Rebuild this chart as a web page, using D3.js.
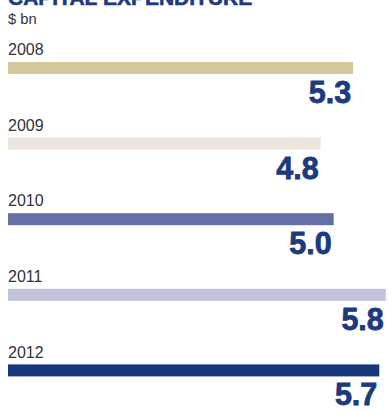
<!DOCTYPE html>
<html>
<head>
<meta charset="utf-8">
<script src="https://cdn.jsdelivr.net/npm/d3@7"></script>
<style>
  html, body { margin: 0; padding: 0; background: #ffffff; }
  svg { display: block; }
</style>
</head>
<body>
<script>
// Capital expenditure by year, $ bn
const years = ["2008", "2009", "2010", "2011", "2012"];
const capex = [5.3, 4.8, 5.0, 5.8, 5.7];
const barColors = ["#d6c99d", "#ede6dc", "#646fa3", "#c0c3dc", "#18367c"];
const valueLabels = ["5.3", "4.8", "5.0", "5.8", "5.7"];

const width = 389, height = 410;
const navy = "#1b3a80";

const svg = d3.select("body").append("svg")
  .attr("width", width)
  .attr("height", height);

// Horizontal value scale: bars start at the left margin
const x = d3.scaleLinear().domain([0, 5.8]).range([8, 385.8]);

// One row per year; each row holds year label, bar and value label
const y = d3.scaleBand().domain(years).range([62, 62 + 75.6 * years.length]).paddingInner(0);
const barH = 12;

// Title (sits partly above the top edge)
svg.append("text")
  .attr("x", 8)
  .attr("y", 4.5)
  .attr("font-family", "'Liberation Sans', Arial, sans-serif")
  .attr("font-weight", 700)
  .attr("font-size", 21)
  .attr("fill", navy)
  .attr("stroke", navy)
  .attr("stroke-width", 0.6)
  .text("CAPITAL EXPENDITURE");

// Unit note
svg.append("text")
  .attr("x", 8)
  .attr("y", 24)
  .attr("font-family", "'Liberation Sans', Arial, sans-serif")
  .attr("font-size", 14.8)
  .attr("fill", "#333333")
  .text("$ bn");

const rows = years.map((yr, i) => ({ year: yr, value: capex[i], color: barColors[i], label: valueLabels[i] }));

const g = svg.selectAll("g.row").data(rows).join("g").attr("class", "row");

g.append("text")
  .attr("x", 8)
  .attr("y", d => y(d.year) - 6.8)
  .attr("font-family", "'Liberation Sans', Arial, sans-serif")
  .attr("font-size", 16)
  .attr("fill", "#333333")
  .text(d => d.year);

g.append("rect")
  .attr("x", x(0))
  .attr("y", d => y(d.year))
  .attr("width", d => x(d.value) - x(0))
  .attr("height", barH)
  .attr("fill", d => d.color);

g.append("text")
  .attr("x", d => x(d.value) - 2)
  .attr("y", d => y(d.year) + 41)
  .attr("text-anchor", "end")
  .attr("font-family", "'Liberation Sans', Arial, sans-serif")
  .attr("font-weight", 700)
  .attr("font-size", 30.5)
  .attr("fill", navy)
  .attr("stroke", navy)
  .attr("stroke-width", 0.8)
  .text(d => d.label);
</script>
</body>
</html>
